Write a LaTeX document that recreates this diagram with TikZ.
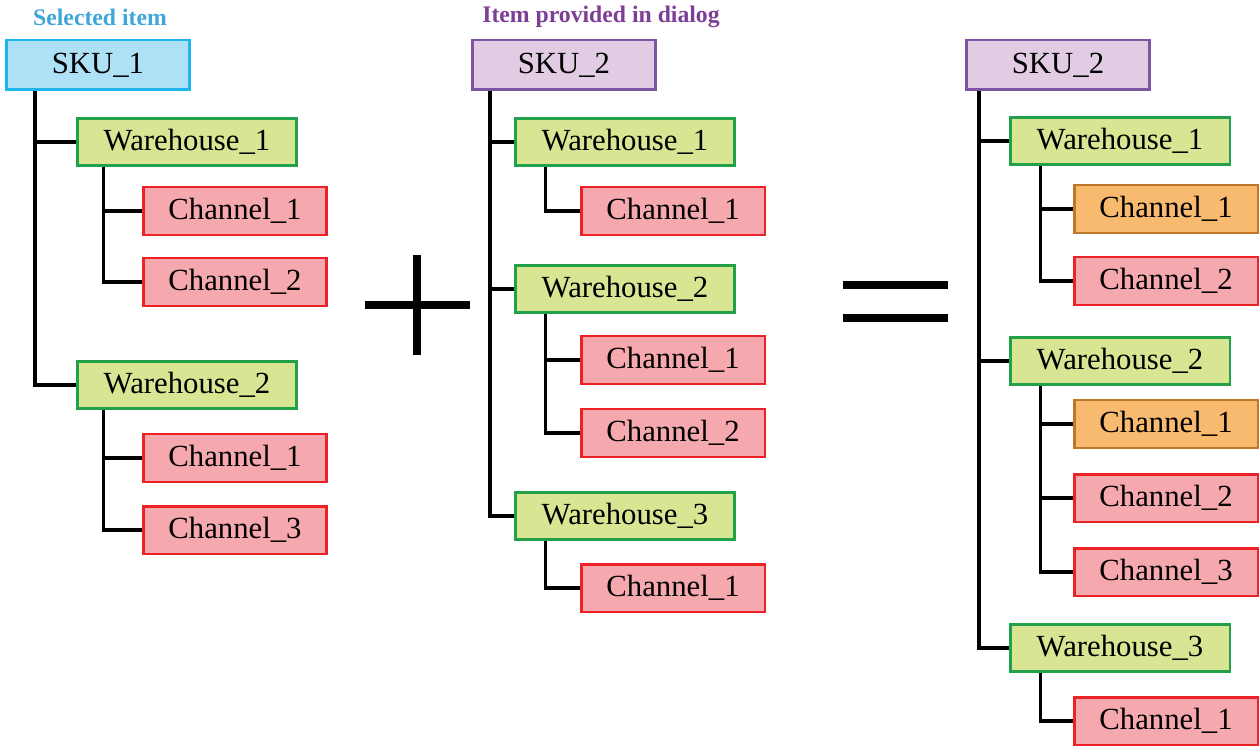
\documentclass[tikz,border=0pt]{standalone}
\usepackage{fontspec}
\setmainfont{Liberation Serif}
\definecolor{skuOneFill}{HTML}{AEE0F6}
\definecolor{skuOneLine}{HTML}{1EB4EC}
\definecolor{skuTwoFill}{HTML}{E2CCE4}
\definecolor{skuTwoLine}{HTML}{7E55A3}
\definecolor{houseFill}{HTML}{D8E593}
\definecolor{houseLine}{HTML}{23A04A}
\definecolor{chanFill}{HTML}{F5A9AF}
\definecolor{chanLine}{HTML}{EC2227}
\definecolor{mergeFill}{HTML}{F8BA6E}
\definecolor{mergeLine}{HTML}{C0772A}
\definecolor{selText}{HTML}{3FA6D8}
\definecolor{dlgText}{HTML}{7D3E96}
\begin{document}
\begin{tikzpicture}[x=0.02cm, y=-0.02cm]
\fontsize{17.5}{20}\selectfont
\tikzset{
    box/.style={draw, line width=1.7pt, inner sep=0pt, text height=1.55ex, text depth=0.35ex},
    sku/.style={box, minimum width=3.66cm, minimum height=1cm},
    house/.style={box, fill=houseFill, draw=houseLine, minimum width=4.4cm, minimum height=0.94cm},
    chan/.style={box, fill=chanFill, draw=chanLine, minimum width=3.68cm, minimum height=0.96cm},
    merged/.style={chan, fill=mergeFill, draw=mergeLine},
    link/.style={line width=2pt},
    sign/.style={line width=4.6pt},
    caption/.style={font=\fontsize{13.5}{15}\selectfont\bfseries},
}
\useasboundingbox (0,0) rectangle (1260,746);

% Captions over the first two trees.
\node[caption, text=selText] (selLabel) at (100,17) {Selected item};
\node[caption, text=dlgText] (dlgLabel) at (601,17) {Item provided in dialog};

% Selected item.
\node[sku, fill=skuOneFill, draw=skuOneLine] (a) at (98,65) {SKU\_1};
\node[house] (a1) at (187,142) {Warehouse\_1};
\node[chan]  (a11) at (235,211) {Channel\_1};
\node[chan]  (a12) at (235,282) {Channel\_2};
\node[house] (a2) at (187,385) {Warehouse\_2};
\node[chan]  (a21) at (235,458) {Channel\_1};
\node[chan]  (a23) at (235,530) {Channel\_3};

\draw[link] (a.south west) ++(30,0) |- (a1.west);
\draw[link] (a.south west) ++(30,0) |- (a2.west);
\draw[link] (a1.south west) ++(28,0) |- (a11.west);
\draw[link] (a1.south west) ++(28,0) |- (a12.west);
\draw[link] (a2.south west) ++(28,0) |- (a21.west);
\draw[link] (a2.south west) ++(28,0) |- (a23.west);

% Item provided in dialog.
\node[sku, fill=skuTwoFill, draw=skuTwoLine] (b) at (564,65) {SKU\_2};
\node[house] (b1) at (625,142) {Warehouse\_1};
\node[chan]  (b11) at (673,211) {Channel\_1};
\node[house] (b2) at (625,289) {Warehouse\_2};
\node[chan]  (b21) at (673,360) {Channel\_1};
\node[chan]  (b22) at (673,433) {Channel\_2};
\node[house] (b3) at (625,516) {Warehouse\_3};
\node[chan]  (b31) at (673,588) {Channel\_1};

\draw[link] (b.south west) ++(19,0) |- (b1.west);
\draw[link] (b.south west) ++(19,0) |- (b2.west);
\draw[link] (b.south west) ++(19,0) |- (b3.west);
\draw[link] (b1.south west) ++(32,0) |- (b11.west);
\draw[link] (b2.south west) ++(32,0) |- (b21.west);
\draw[link] (b2.south west) ++(32,0) |- (b22.west);
\draw[link] (b3.south west) ++(32,0) |- (b31.west);

% Result.
\node[sku, fill=skuTwoFill, draw=skuTwoLine] (c) at (1058,65) {SKU\_2};
\node[house]  (c1) at (1120,141) {Warehouse\_1};
\node[merged] (c11) at (1166,209) {Channel\_1};
\node[chan]   (c12) at (1166,281) {Channel\_2};
\node[house]  (c2) at (1120,361) {Warehouse\_2};
\node[merged] (c21) at (1166,424) {Channel\_1};
\node[chan]   (c22) at (1166,498) {Channel\_2};
\node[chan]   (c23) at (1166,572) {Channel\_3};
\node[house]  (c3) at (1120,648) {Warehouse\_3};
\node[chan]   (c31) at (1166,721) {Channel\_1};

\draw[link] (c.south west) ++(14,0) |- (c1.west);
\draw[link] (c.south west) ++(14,0) |- (c2.west);
\draw[link] (c.south west) ++(14,0) |- (c3.west);
\draw[link] (c1.south west) ++(32,0) |- (c11.west);
\draw[link] (c1.south west) ++(32,0) |- (c12.west);
\draw[link] (c2.south west) ++(32,0) |- (c21.west);
\draw[link] (c2.south west) ++(32,0) |- (c22.west);
\draw[link] (c2.south west) ++(32,0) |- (c23.west);
\draw[link] (c3.south west) ++(32,0) |- (c31.west);

% Plus and equals signs.
\draw[sign] (365,305) -- (470,305);
\draw[sign] (417,255) -- (417,355);
\draw[sign] (843,285) -- (948,285);
\draw[sign] (843,318) -- (948,318);
\end{tikzpicture}
\end{document}
